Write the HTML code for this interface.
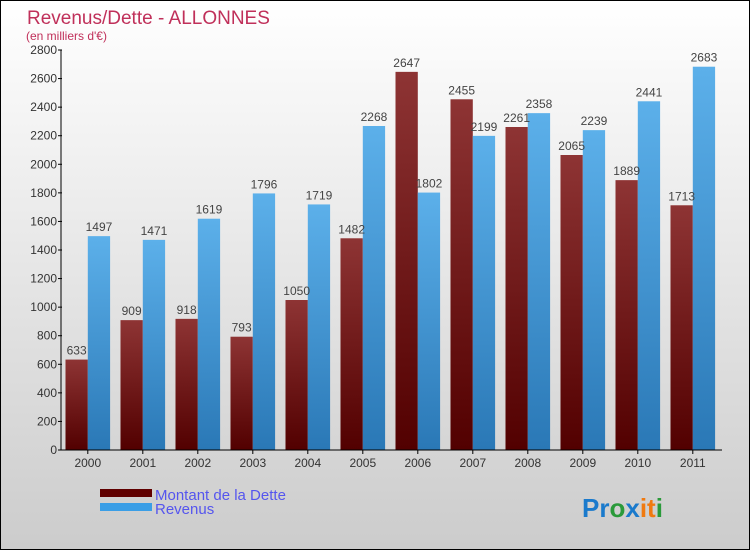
<!DOCTYPE html>
<html><head><meta charset="utf-8"><style>
body{margin:0}
#c{width:750px;height:550px;position:relative;font-family:"Liberation Sans",sans-serif}
</style></head><body>
<div id="c">
<svg id="s" width="750" height="550" xmlns="http://www.w3.org/2000/svg">
<defs>
<linearGradient id="bg" x1="0" y1="0" x2="0" y2="1"><stop offset="0" stop-color="#ffffff"/><stop offset="1" stop-color="#cccccc"/></linearGradient>
<linearGradient id="gd" x1="0" y1="0" x2="0" y2="1"><stop offset="0" stop-color="#8e3434"/><stop offset="1" stop-color="#520000"/></linearGradient>
<linearGradient id="gr" x1="0" y1="0" x2="0" y2="1"><stop offset="0" stop-color="#5cb0ea"/><stop offset="1" stop-color="#2a78b6"/></linearGradient>
</defs>
<rect x="0.5" y="0.5" width="749" height="549" fill="url(#bg)" stroke="#000"/>
<text x="27" y="24" font-size="19" fill="#c0305a">Revenus/Dette - ALLONNES</text>
<text x="26" y="40" font-size="12" fill="#c0305a">(en milliers d'€)</text>
<g id="plot"></g>
<rect x="100" y="489" width="52" height="8" fill="#600000"/>
<text x="155" y="500" font-size="15" fill="#5555ee">Montant de la Dette</text>
<rect x="100" y="503" width="52" height="8" fill="#3a9ee6"/>
<text x="155" y="514" font-size="15" fill="#5555ee">Revenus</text>
<text x="582" y="517" font-size="26" font-weight="bold"><tspan fill="#1a7acc">Pr</tspan><tspan fill="#2a9a3a">o</tspan><tspan fill="#1a7acc">x</tspan><tspan fill="#f07a10">it</tspan><tspan fill="#2a9a3a">i</tspan></text>
</svg>
</div>
<script>
const years=["2000","2001","2002","2003","2004","2005","2006","2007","2008","2009","2010","2011"];
const dette=[633,909,918,793,1050,1482,2647,2455,2261,2065,1889,1713];
const revenus=[1497,1471,1619,1796,1719,2268,1802,2199,2358,2239,2441,2683];
const yTicks=[0,200,400,600,800,1000,1200,1400,1600,1800,2000,2200,2400,2600,2800];
const NS="http://www.w3.org/2000/svg";
const g=document.getElementById('plot');
const x0=61,x1=722,yb=450,yt=50,ymax=2800;
const Y=v=>yb-(v/ymax)*(yb-yt);
const GX=i=>65.5+i*55;
const BW=22.3;
function mk(t,a){const e=document.createElementNS(NS,t);for(const k in a)e.setAttribute(k,a[k]);g.appendChild(e);return e;}
years.forEach((yr,i)=>{
  const x=GX(i);
  let r=mk('rect',{x:x,y:Y(dette[i]),width:BW,height:yb-Y(dette[i]),fill:'url(#gd)'});
  
  
  r=mk('rect',{x:x+BW,y:Y(revenus[i]),width:BW,height:yb-Y(revenus[i]),fill:'url(#gr)'});
  
  
  let t=mk('text',{x:x+BW/2,y:Y(dette[i])-5,'font-size':12,fill:'#444','text-anchor':'middle'});
  t.textContent=dette[i];
  
  
  t=mk('text',{x:x+BW*1.5,y:Y(revenus[i])-5,'font-size':12,fill:'#444','text-anchor':'middle'});
  t.textContent=revenus[i];
  
  
  t=mk('text',{x:x+BW,y:467,'font-size':12,fill:'#333','text-anchor':'middle'});
  t.textContent=yr;
  
  
  const tk=mk('line',{x1:x+BW,x2:x+BW,y1:yb,y2:yb+4,stroke:'#000'});
  
  
});
yTicks.forEach(v=>{
  const y=Y(v);
  const l=mk('line',{x1:x0-3,x2:x0+1,y1:y,y2:y,stroke:'#000'});
  
  
  const t=mk('text',{x:x0-4,y:y+4,'font-size':12,fill:'#333','text-anchor':'end'});
  t.textContent=v;
  
  
});
let a=mk('line',{x1:x0,x2:x0,y1:yt,y2:yb,stroke:'#000'});


a=mk('line',{x1:x0,x2:x1,y1:yb,y2:yb,stroke:'#000'});


</script>
</body></html>
